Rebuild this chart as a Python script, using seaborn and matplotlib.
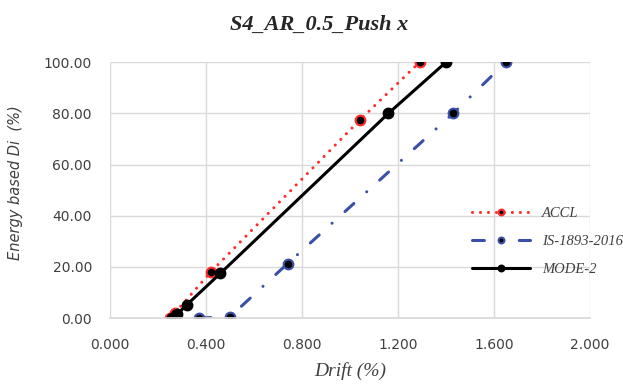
import matplotlib
matplotlib.use("Agg")
import matplotlib.pyplot as plt
import pandas as pd
import seaborn as sns
from matplotlib.ticker import FormatStrFormatter, MultipleLocator

# values
accl_drift = [0.25, 0.27, 0.42, 1.04, 1.29]
accl_di = [0.0, 2.0, 18.0, 77.3, 100.0]

is1893_drift = [0.37, 0.50, 0.74, 1.43, 1.65]
is1893_di = [0.0, 0.5, 21.3, 80.0, 100.0]

mode2_drift = [0.26, 0.28, 0.32, 0.46, 1.16, 1.40]
mode2_di = [0.0, 1.5, 5.2, 17.5, 80.0, 100.0]

sns.set_theme(style="white")
plt.rcParams["font.family"] = ["DejaVu Sans"]

serif_it = {"family": "Liberation Serif", "style": "italic"}
grey_txt = "#404040"

fig = plt.figure(figsize=(6.23, 3.86), dpi=100)
ax = fig.add_axes([0.1766, 0.176, 0.7705, 0.663])

series = [
    ("ACCL", accl_drift, accl_di, "#ff2a2a", (0, (0.01, 2.6)), "#ff2a2a"),
    ("IS-1893-2016", is1893_drift, is1893_di, "#3a4fa8", (0, (3.9, 5.7, 0.01, 5.7)), "#3a4fa8"),
    ("MODE-2", mode2_drift, mode2_di, "black", "-", "black"),
]

for name, xs, ys, color, ls, edge in series:
    df = pd.DataFrame({"drift": xs, "di": ys})
    sns.lineplot(
        data=df, x="drift", y="di", sort=False, ax=ax, color=color,
        linewidth=2.2, linestyle=ls, marker="o", markersize=7,
        markerfacecolor="black", markeredgecolor=edge, markeredgewidth=1.5,
        dash_capstyle="round", label=name,
    )

ax.set_xlim(0, 2.0)
ax.set_ylim(0, 100)
ax.xaxis.set_major_locator(MultipleLocator(0.4))
ax.yaxis.set_major_locator(MultipleLocator(20))
ax.xaxis.set_major_formatter(FormatStrFormatter("%.3f"))
ax.yaxis.set_major_formatter(FormatStrFormatter("%.2f"))
ax.grid(True, color="#d9d9d9", linewidth=1)
for side in ["top", "right", "left"]:
    ax.spines[side].set_visible(False)
ax.spines["bottom"].set_color("#d9d9d9")
ax.tick_params(axis="both", labelsize=10, labelcolor=grey_txt, length=0)
ax.tick_params(axis="x", pad=14)
ax.tick_params(axis="y", pad=13)

ax.set_xlabel("Drift (%)", fontdict=serif_it, fontsize=14, color=grey_txt)
ax.xaxis.set_label_coords(0.5, -0.172)
ax.set_ylabel("Energy based Di  (%)", fontsize=10.5, style="italic", color=grey_txt)
ax.yaxis.set_label_coords(-0.181, 0.53)

fig.text(319 / 623, 1 - 30 / 386, "S4_AR_0.5_Push x", fontdict=serif_it, fontsize=16,
         fontweight="bold", color="#262626", ha="center", va="baseline")

leg = ax.legend(loc="center left", bbox_to_anchor=(0.754, 0.30), frameon=False,
                borderpad=0, borderaxespad=0, handlelength=4.0, handletextpad=0.8,
                labelspacing=1.0, markerscale=0.6,
                prop={"family": "Liberation Serif", "style": "italic", "size": 10.5})
for t in leg.get_texts():
    t.set_color(grey_txt)

fig.savefig("out.png", dpi=100)
